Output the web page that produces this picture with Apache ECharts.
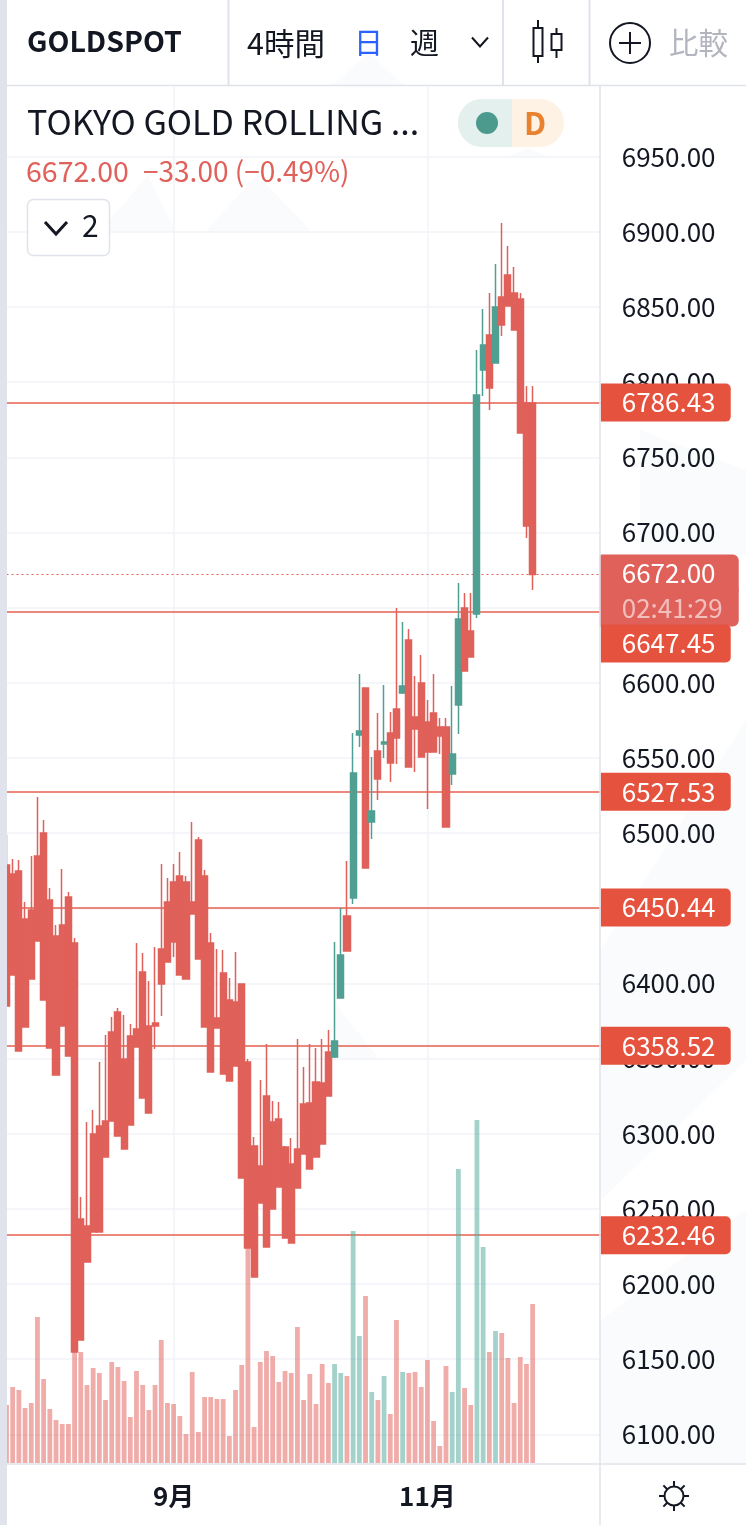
<!DOCTYPE html>
<html>
<head>
<meta charset="utf-8">
<title>GOLDSPOT</title>
<script src="https://cdn.jsdelivr.net/npm/echarts@6/dist/echarts.min.js"></script>
<style>
html,body{margin:0;padding:0;background:#fff;}
#chart{width:746px;height:1525px;}
</style>
</head>
<body>
<div id="chart"></div>
<script>
//---------------------------Data---------------------------
//4h candles
let opens = [
    6478.8,6472.8,6474.8,6442.9,6448.8,6484.8,6500.1,6455.5,6431.5,6438.9,
    6457.5,6426.9,6243.3,6238.6,6299.8,6305.1,6308.5,6367.7,6381.0,6349.7,
    6365.0,6369.7,6407.6,6371.7,6373.7,6422.9,6454.2,6467.5,6471.5,6467.5,
    6454.2,6495.4,6471.5,6426.9,6377.0,6406.9,6389.0,6387.6,6399.6,6347.7,
    6291.8,6278.5,6325.1,6307.8,6309.8,6291.2,6279.8,6289.8,6319.8,6320.4,
    6334.4,6333.7,6354.4,6351.0,6390.3,6444.9,6456.8,6565.3,6596.6,6507.4,
    6554.6,6559.3,6566.6,6582.6,6593.2,6628.5,6577.3,6599.9,6573.9,6579.9,
    6570.6,6570.6,6539.3,6585.2,6649.8,6634.5,6645.8,6808.1,6831.4,6812.8,
    6856.7,6871.3,6859.4,6855.4,6786.2,6786.2
];
let closes = [
    6385.0,6405.6,6355.0,6371.0,6402.9,6428.2,6389.0,6357.0,6339.1,6371.7,
    6351.7,6154.8,6162.7,6214.6,6234.6,6234.6,6284.5,6308.5,6298.5,6289.8,
    6305.8,6357.7,6323.8,6313.8,6371.7,6399.6,6414.2,6427.5,6405.6,6402.9,
    6446.2,6416.2,6371.0,6341.1,6370.3,6339.7,6335.1,6345.0,6270.5,6224.0,
    6204.7,6253.9,6224.6,6249.9,6264.5,6230.6,6227.3,6263.9,6286.5,6276.5,
    6284.5,6293.2,6325.1,6361.7,6418.9,6421.6,6540.0,6567.9,6476.8,6514.7,
    6536.0,6560.6,6546.6,6563.3,6597.9,6544.0,6569.3,6550.6,6554.0,6554.0,
    6564.6,6504.1,6552.6,6642.5,6607.9,6617.2,6791.5,6824.8,6796.1,6850.0,
    6838.1,6850.7,6834.7,6766.2,6704.3,6672.0
];
let highs = [
    6498.7,6482.8,6482.1,6454.2,6484.8,6524.0,6508.7,6463.5,6438.9,6476.1,
    6460.8,6430.2,6257.9,6307.8,6315.8,6347.7,6365.7,6377.7,6383.6,6379.0,
    6373.0,6426.9,6420.2,6401.6,6424.2,6479.4,6470.1,6479.4,6487.4,6471.5,
    6507.4,6497.4,6475.5,6433.5,6422.9,6422.2,6403.6,6420.9,6399.6,6349.7,
    6297.8,6335.7,6359.7,6321.8,6321.1,6291.8,6297.1,6363.0,6344.4,6359.7,
    6357.0,6363.0,6369.0,6427.5,6450.2,6481.4,6566.6,6605.9,6596.6,6550.6,
    6579.9,6598.5,6580.6,6649.8,6640.5,6635.8,6604.5,6618.5,6588.6,6605.9,
    6576.6,6576.6,6597.9,6666.4,6659.8,6659.8,6821.4,6848.7,6859.4,6878.7,
    6905.9,6890.6,6876.7,6859.4,6797.5,6797.5
];
let lows = [
    6385.0,6405.6,6355.0,6371.0,6402.9,6428.2,6389.0,6357.0,6339.1,6371.7,
    6351.7,6154.8,6162.7,6214.6,6234.6,6234.6,6284.5,6308.5,6298.5,6289.8,
    6305.8,6357.7,6323.8,6313.8,6356.4,6378.3,6414.2,6417.6,6405.6,6402.9,
    6446.2,6416.2,6371.0,6341.1,6370.3,6339.7,6335.1,6345.0,6270.5,6224.0,
    6204.7,6253.9,6224.6,6249.9,6264.5,6230.6,6227.3,6263.9,6286.5,6276.5,
    6284.5,6293.2,6325.1,6350.4,6390.3,6421.6,6452.8,6557.3,6476.8,6496.1,
    6522.0,6550.0,6534.0,6546.0,6592.6,6544.0,6540.7,6550.6,6516.0,6554.0,
    6552.6,6504.1,6532.0,6565.9,6607.9,6617.2,6643.1,6790.8,6781.5,6812.8,
    6830.7,6850.7,6834.7,6766.2,6696.3,6661.8
];
//volume, no scale in the picture so relative units
let volumes = [
    58,76,73,55,60,146,84,54,43,39,
    39,111,111,78,95,90,63,101,96,82,
    46,92,78,53,78,123,60,59,47,29,
    91,31,66,66,64,64,27,73,98,215,
    36,101,112,107,81,92,90,136,63,89,
    59,99,80,99,90,87,232,127,167,71,
    63,87,49,143,91,90,91,76,103,42,
    17,97,71,294,75,58,343,216,111,132,
    130,105,60,106,99,159
];
//97 slots on the time axis, the last 11 are the empty space right of the last candle
let monthSlots = [27, 68];
let monthLabels = ['9月', '11月'];
let slotCount = 97;

//levels drawn across the chart
let levelPrices = [6786.43, 6527.53, 6450.44, 6358.52, 6232.46];
let pushedLevel = 6647.45;
let lastPrice = 6672.00;
let countdown = '02:41:29';

//---------------------------Style---------------------------
let font = '"Noto Sans CJK JP","Noto Sans",sans-serif';
let red = '#e0605a';
let teal = '#4f9f93';
let tagRed = '#e5533f';
let lineRed = '#e4604f';
let gridColor = '#f0f3f8';
let borderColor = '#e0e3eb';
let textColor = '#131722';
let paleMark = '#fafbfc';

//---------------------------Chart---------------------------
let chart = echarts.init(document.getElementById('chart'));

let categories = [];
for (let i = 0; i < slotCount; i++) {
    let m = monthSlots.indexOf(i);
    categories.push(m >= 0 ? monthLabels[m] : '');
}
let isMonth = function (index, value) {
    return value !== '';
};

let candleData = [];
for (let i = 0; i < opens.length; i++) {
    candleData.push([opens[i], closes[i], lows[i], highs[i]]);
}
let volumeData = [];
for (let i = 0; i < volumes.length; i++) {
    volumeData.push({
        value: volumes[i],
        itemStyle: {color: closes[i] > opens[i] ? 'rgba(79,169,155,0.52)' : 'rgba(224,96,90,0.52)'}
    });
}

//price tag at the end of a level line, gap pushes the tag down from its line
function tagLabel(text, gap) {
    return {
        show: true,
        position: 'end',
        distance: 0,
        formatter: (gap ? '{gap| }\n' : '') + '{tag|' + text + '}',
        rich: {
            gap: {height: gap || 0, lineHeight: gap || 0, fontSize: 1},
            tag: {
                width: 95, height: 38, lineHeight: 38, padding: [0, 14, 0, 21],
                fontFamily: font, fontSize: 26, color: '#fff',
                backgroundColor: tagRed, borderRadius: [0, 5, 5, 0]
            }
        }
    };
}

let lastLabel = {
    show: true,
    position: 'end',
    distance: 0,
    formatter: '{gap| }\n{a|' + lastPrice.toFixed(2) + '}\n{b|' + countdown + '}',
    rich: {
        gap: {height: 32, lineHeight: 32, fontSize: 1},
        a: {
            width: 102, height: 35, lineHeight: 35, padding: [0, 14, 0, 21],
            fontFamily: font, fontSize: 26, color: '#fff',
            backgroundColor: red, borderColor: red, borderWidth: 1, borderRadius: [0, 5, 0, 0]
        },
        b: {
            width: 102, height: 35, lineHeight: 35, padding: [0, 14, 0, 21],
            fontFamily: font, fontSize: 26, color: 'rgba(255,255,255,0.6)',
            backgroundColor: red, borderColor: red, borderWidth: 1, borderRadius: [0, 0, 5, 0]
        }
    }
};

let levelData = [{
    yAxis: lastPrice,
    lineStyle: {type: [2, 3], width: 1, color: red},
    label: lastLabel
}];
levelPrices.forEach(function (p) {
    levelData.push({yAxis: p, label: tagLabel(p.toFixed(2), 0)});
});
levelData.push({yAxis: pushedLevel, label: tagLabel(pushedLevel.toFixed(2), 64)});

//toolbar, legend and small icons
function text(str, x, y, size, color, extra) {
    return {
        type: 'text', z: 101, silent: true, x: x, y: y,
        style: Object.assign({
            text: str, fontFamily: font, fontSize: size, fill: color,
            align: 'left', verticalAlign: 'middle'
        }, extra || {})
    };
}
function rect(x, y, w, h, fill, z, r) {
    return {
        type: 'rect', z: z, silent: true,
        shape: {x: x, y: y, width: w, height: h, r: r || 0},
        style: {fill: fill}
    };
}
function line(x1, y1, x2, y2, color, w, z) {
    return {
        type: 'line', z: z || 101, silent: true,
        shape: {x1: x1, y1: y1, x2: x2, y2: y2},
        style: {stroke: color, lineWidth: w}
    };
}
function chevron(x, y, w, h, color, lw) {
    return {
        type: 'polyline', z: 101, silent: true,
        shape: {points: [[x - w, y - h], [x, y + h], [x + w, y - h]]},
        style: {stroke: color, lineWidth: lw, fill: null}
    };
}
function outline(x, y, w, h) {
    return {
        type: 'rect', z: 101, silent: true,
        shape: {x: x, y: y, width: w, height: h},
        style: {stroke: textColor, lineWidth: 2, fill: '#fff'}
    };
}
function pale(points, z) {
    return {
        type: 'polygon', z: z || 0, silent: true,
        shape: {points: points},
        style: {fill: paleMark}
    };
}

let chrome = [
    //faint logo marks behind the chart
    pale([[100, 232], [148, 175], [176, 232]]),
    pale([[205, 232], [257, 175], [312, 232]]),
    pale([[505, 158], [528, 148], [552, 158]]),
    pale([[335, 1003], [378, 1058], [335, 1058]]),
    pale([[640, 430], [746, 470], [746, 555], [640, 555]]),
    pale([[601, 950], [746, 720], [746, 1060], [601, 1200]]),
    pale([[601, 1320], [746, 1210], [746, 1463], [601, 1463]]),

    //cover the grid parts that stick out of the plot
    rect(0, 0, 746, 85, '#fff', 100),
    rect(7, 1464, 739, 61, '#fff', 3),
    rect(0, 0, 7, 1525, borderColor, 102),
    pale([[333, 85], [369, 53], [403, 85]], 100),

    line(7, 85.5, 746, 85.5, borderColor, 1.5),
    line(600, 85, 600, 1525, borderColor, 1.5, 4),
    line(7, 1464, 746, 1464, borderColor, 1.5, 4),
    line(228.5, 0, 228.5, 85, borderColor, 2),
    line(503, 0, 503, 85, borderColor, 2),
    line(589.5, 0, 589.5, 85, borderColor, 2),

    text('GOLDSPOT', 27, 41, 28.5, textColor, {fontWeight: 'bold'}),
    text('4時間', 247, 43, 30.5, textColor),
    text('日', 354, 43, 29, '#2962ff'),
    text('週', 410, 43, 29, textColor),
    chevron(480, 42, 8, 4.5, textColor, 2),

    line(538, 20, 538, 63, textColor, 2),
    outline(533.5, 28, 9, 28),
    line(556.5, 28, 556.5, 58, textColor, 2),
    outline(551.5, 34, 10, 16),

    {
        type: 'circle', z: 101, silent: true,
        shape: {cx: 630, cy: 43, r: 20},
        style: {stroke: textColor, lineWidth: 2, fill: null}
    },
    line(619, 43, 641, 43, textColor, 2),
    line(630, 32, 630, 54, textColor, 2),
    text('比較', 669, 43, 29.5, '#b2b5be'),

    text('TOKYO GOLD ROLLING ...', 27, 122, 34, textColor),
    text(lastPrice.toFixed(2), 26, 171, 28.5, red),
    text('−33.00 (−0.49%)', 143, 171, 28, red),

    rect(458, 99, 106, 48, '#fdf2e3', 101, 24),
    {
        type: 'rect', z: 101, silent: true,
        shape: {x: 458, y: 99, width: 54, height: 48, r: [24, 0, 0, 24]},
        style: {fill: '#e3f0ee'}
    },
    {
        type: 'circle', z: 102, silent: true,
        shape: {cx: 487, cy: 123, r: 11},
        style: {fill: '#4b9a8d'}
    },
    text('D', 524, 123, 31, '#e8822e', {fontWeight: 'bold'}),

    {
        type: 'rect', z: 101, silent: true,
        shape: {x: 27.5, y: 199.5, width: 82, height: 56, r: 6},
        style: {stroke: borderColor, lineWidth: 1.5, fill: '#fff'}
    },
    chevron(56, 228, 11, 6, textColor, 3),
    text('2', 82, 226, 30, textColor)
];

//settings gear in the corner
let gearX = 674, gearY = 1496;
chrome.push({
    type: 'circle', z: 101, silent: true,
    shape: {cx: gearX, cy: gearY, r: 9.5},
    style: {stroke: textColor, lineWidth: 2, fill: '#fff'}
});
for (let a = 0; a < 8; a++) {
    let c = Math.cos(a * Math.PI / 4), s = Math.sin(a * Math.PI / 4);
    chrome.push(line(gearX + c * 10, gearY + s * 10, gearX + c * 15, gearY + s * 15, textColor, 2));
}

let option = {
    animation: false,
    backgroundColor: '#fff',
    textStyle: {fontFamily: font},
    grid: [
        //prices, runs 6050..7000 and overhangs the plot, header and footer sit on top
        {left: 6.5, width: 594.24, top: 81.6, height: 1427.85},
        //volume, sits on the bottom of the plot
        {left: 6.5, width: 594.24, top: 85, height: 1378}
    ],
    xAxis: [
        {
            type: 'category', gridIndex: 0, data: categories, boundaryGap: false,
            axisLine: {show: false}, axisTick: {show: false}, axisLabel: {show: false},
            splitLine: {show: true, interval: isMonth, lineStyle: {color: gridColor, width: 1.5}}
        },
        {
            type: 'category', gridIndex: 1, data: categories, boundaryGap: false, z: 10,
            axisLine: {show: false}, axisTick: {show: false}, splitLine: {show: false},
            axisLabel: {
                interval: isMonth, margin: 20, fontFamily: font, fontSize: 26,
                fontWeight: 'bold', color: textColor
            }
        }
    ],
    yAxis: [
        {
            type: 'value', gridIndex: 0, position: 'right', min: 6050, max: 7000, interval: 50,
            axisLine: {show: false}, axisTick: {show: false},
            splitLine: {show: true, lineStyle: {color: gridColor, width: 1.5}},
            axisLabel: {
                margin: 21, fontFamily: font, fontSize: 26, color: textColor,
                formatter: function (v) {
                    return (v === 6050 || v === 7000) ? '' : v.toFixed(2);
                }
            }
        },
        {
            type: 'value', gridIndex: 1, position: 'left', min: 0, max: 1378, show: false
        }
    ],
    series: [
        {
            name: 'Volume', type: 'bar', xAxisIndex: 1, yAxisIndex: 1,
            barWidth: 4.8, z: 2, data: volumeData
        },
        {
            name: 'GOLDSPOT', type: 'candlestick', xAxisIndex: 0, yAxisIndex: 0,
            barWidth: 6.6, z: 3, data: candleData,
            itemStyle: {
                color: teal, color0: red,
                borderColor: teal, borderColor0: red,
                borderWidth: 1.5
            },
            markLine: {
                silent: true, z: 1, symbol: 'none', animation: false,
                lineStyle: {type: 'solid', width: 1.5, color: lineRed},
                data: levelData
            }
        }
    ],
    graphic: {elements: chrome}
};
chart.setOption(option);

window.onresize = function () {
    chart.resize();
};
</script>
</body>
</html>
